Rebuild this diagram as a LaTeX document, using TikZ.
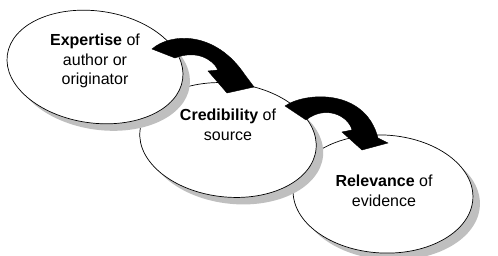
\documentclass[tikz,border=0pt]{standalone}
\usepackage{fontspec}
\setmainfont{Liberation Sans}
\usetikzlibrary{shapes.geometric,shadows}
\definecolor{Shade}{HTML}{BFBFBF}
\definecolor{Ink}{HTML}{000000}
\tikzset{
  bubble/.style={ellipse,draw=Ink,fill=white,line width=.7pt,inner sep=0pt,
    minimum width=177pt,minimum height=112pt,
    drop shadow={shadow xshift=7pt,shadow yshift=-7pt,fill=Shade,opacity=1}},
  caption/.style={align=center,font=\fontsize{16}{19.5}\selectfont},
  turnarrow/.style={fill=Ink,draw=Ink,line width=.4pt,line join=miter}
}

\begin{document}
\begin{tikzpicture}[x=1pt,y=-1pt]
        \useasboundingbox (0,0) rectangle (498,256);
        \node[bubble,rotate=-3,minimum width=180pt,minimum height=118pt] (rel) at (383,194) {};
        \node[bubble,rotate=-6,minimum height=114pt] (cred) at (228,140) {};
        \node[bubble,rotate=-8] (exp) at (95,67) {};
        \node[caption] (expt) at (95,61) {\textbf{Expertise} of\\author or\\originator};
        \node[caption] (credt) at (228,125) {\textbf{Credibility} of\\source};
        \node[caption] (relt) at (384,191) {\textbf{Relevance} of\\evidence};
        % curved arrows
        \fill[turnarrow] (152,49) .. controls (170,33) and (215,30) .. (245,75)
          -- (254,87) -- (227,93) -- (208,71) -- (218,70)
          .. controls (212,58) and (195,50) .. (175,58) -- cycle;
        \fill[turnarrow] (285,106) .. controls (305,92) and (365,88) .. (378,138)
          -- (388,143) -- (362,150) -- (342,132) -- (352,130)
          .. controls (348,115) and (325,105) .. (306,120) -- cycle;
      \end{tikzpicture}
\end{document}
